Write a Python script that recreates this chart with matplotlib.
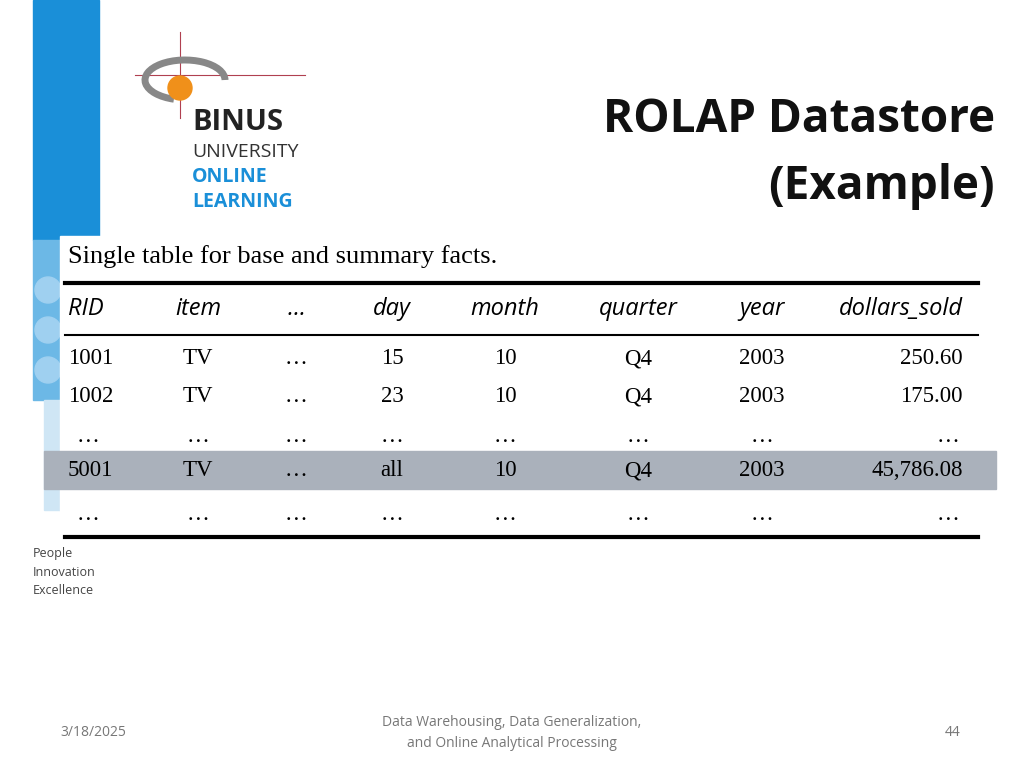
import matplotlib
matplotlib.use("Agg")
import matplotlib.pyplot as plt
from matplotlib.patches import Rectangle, Circle, Arc

columns = ["RID", "item", "…", "day", "month", "quarter", "year", "dollars_sold"]
rows = [
    ["1001", "TV", "…", "15", "10", "Q4", "2003", "250.60"],
    ["1002", "TV", "…", "23", "10", "Q4", "2003", "175.00"],
    ["…", "…", "…", "…", "…", "…", "…", "…"],
    ["5001", "TV", "…", "all", "10", "Q4", "2003", "45,786.08"],
    ["…", "…", "…", "…", "…", "…", "…", "…"],
]
highlight_row = 3
title_lines = ["ROLAP Datastore", "(Example)"]
caption = "Single table for base and summary facts."
footer_date = "3/18/2025"
footer_center = "Data Warehousing, Data Generalization,\nand Online Analytical Processing"
page_no = "44"

fig = plt.figure(figsize=(10.24, 7.68), dpi=100)
ax = fig.add_axes([0, 0, 1, 1])
ax.set_xlim(0, 1024); ax.set_ylim(768, 0); ax.axis("off")

# left decorative stripe
ax.add_patch(Rectangle((33, 0), 66, 240, color="#1a8fd8", zorder=1))
ax.add_patch(Rectangle((33, 240), 30, 160, color="#6cb8e6", zorder=1))
for yy in (290, 330, 370):
    ax.add_patch(Circle((48, yy), 13, color="#9fd0f0", zorder=1))
ax.add_patch(Rectangle((44, 400), 20, 110, color="#cfe6f5", zorder=1))

# logo
ax.plot([135, 305], [75, 75], color="#b04050", lw=0.8, zorder=3)
ax.plot([180, 180], [32, 118], color="#b04050", lw=0.8, zorder=3)
ax.add_patch(Arc((185, 80), 80, 40, theta1=120, theta2=360, color="#888888", lw=5, zorder=3))
ax.add_patch(Circle((180, 88), 12, color="#f0901a", zorder=4))
ax.text(192, 123, "BINUS", fontsize=21, fontweight="bold", color="#222222", va="center", family="Open Sans")
ax.text(192, 152, "UNIVERSITY", fontsize=14, color="#333333", va="center", family="Open Sans")
ax.text(192, 177, "ONLINE", fontsize=14, fontweight="bold", color="#1a8fd8", va="center", family="Open Sans")
ax.text(192, 202, "LEARNING", fontsize=14, fontweight="bold", color="#1a8fd8", va="center", family="Open Sans")

# title
ax.text(995, 120, title_lines[0], fontsize=33, fontweight="bold", ha="right", va="center", family="Open Sans", color="#111111")
ax.text(995, 186, title_lines[1], fontsize=33, fontweight="bold", ha="right", va="center", family="Open Sans", color="#111111")

# table image box
ax.add_patch(Rectangle((60, 236), 940, 312, color="white", zorder=2))
ax.text(68, 257, caption, fontsize=19, family="Liberation Serif", va="center", zorder=5)
ax.plot([65, 978], [283, 283], color="black", lw=3, zorder=5)
ax.plot([65, 978], [335, 335], color="black", lw=1.5, zorder=5)
ax.plot([65, 978], [537, 537], color="black", lw=3, zorder=5)

col_x = [68, 198, 296, 392, 505, 638, 762, 963]
col_ha = ["left", "center", "center", "center", "center", "center", "center", "right"]
row_y = [359, 397, 436, 471, 514]
for x, ha, name in zip(col_x, col_ha, columns):
    ax.text(x, 309, name, fontsize=17, style="italic", family="Open Sans", ha=ha, va="center", zorder=5)
ax.add_patch(Rectangle((44, 451), 952, 38, color="#aab1bb", zorder=3))
for r, (y, row) in enumerate(zip(row_y, rows)):
    for i, (x, ha, val) in enumerate(zip(col_x, col_ha, row)):
        xx = x
        if val == "…" and i == 0:
            xx, ha2 = 88, "center"
        elif val == "…" and i == 7:
            xx, ha2 = 948, "center"
        else:
            ha2 = ha
        ax.text(xx, y, val, fontsize=16.5, family="Liberation Serif", ha=ha2, va="center", zorder=5)

# left bottom slogan
for i, w in enumerate(["People", "Innovation", "Excellence"]):
    ax.text(33, 554 + 18 * i, w, fontsize=9, color="#444444", va="center", family="Open Sans")

# footer
ax.text(60, 733, footer_date, fontsize=10, color="#777777", va="center", family="Open Sans")
ax.text(512, 733, footer_center, fontsize=10, color="#777777", va="center", ha="center", family="Open Sans", linespacing=1.6)
ax.text(953, 733, page_no, fontsize=10, color="#777777", va="center", ha="center", family="Open Sans")

fig.savefig("out.png", dpi=100)
